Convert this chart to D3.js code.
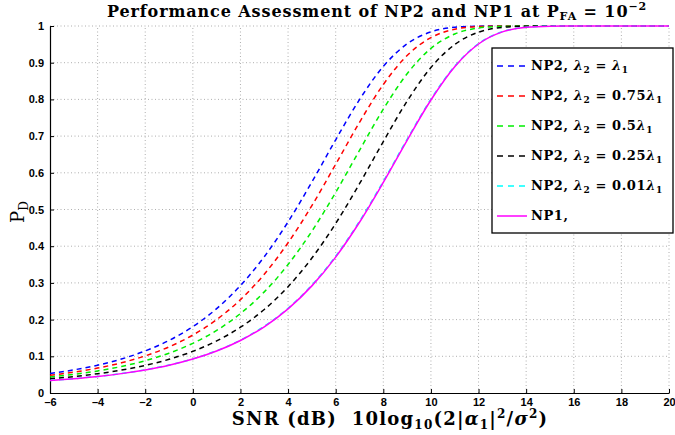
<!DOCTYPE html>
<html>
<head>
<meta charset="utf-8">
<script src="https://cdn.jsdelivr.net/npm/d3@7"></script>
<style>
  body { margin: 0; background: #fff; }
  svg { display: block; }
  .tick text { font-family: "Liberation Sans", Arial, sans-serif; font-weight: bold; font-size: 11px; fill: #000; }
  .grid line { stroke: #9a9a9a; stroke-width: 0.8; stroke-dasharray: 1,2.5; }
  .serif { font-family: "DejaVu Serif", "Liberation Serif", serif; }
</style>
</head>
<body>
<svg id="chart" width="675" height="435"></svg>
<script>
// SNR (dB) sample points
const snrDb = [-6,-5,-4,-3,-2,-1,0,1,2,3,4,5,6,7,8,9,10,11,12,13,14,15,16,17,18,19,20];

// P_D values
const np2Full = [0.0529,0.0630,0.0758,0.0926,0.1146,0.1433,0.1809,0.2299,0.2927,0.3713,0.4663,0.5749,0.6900,0.7995,0.8900,0.9515,0.9841,0.9964,0.9995,1,1,1,1,1,1,1,1];
const np2p75 = [0.0482,0.0568,0.0680,0.0823,0.1011,0.1257,0.1579,0.2000,0.2544,0.3237,0.4093,0.5106,0.6231,0.7375,0.8406,0.9196,0.9684,0.9911,0.9984,0.9998,1,1,1,1,1,1,1];
const np2p5 = [0.0434,0.0508,0.0602,0.0722,0.0880,0.1085,0.1354,0.1706,0.2165,0.2755,0.3501,0.4410,0.5467,0.6611,0.7734,0.8698,0.9390,0.9783,0.9946,0.9992,1,1,1,1,1,1,1];
const np2p25 = [0.0387,0.0448,0.0525,0.0624,0.0752,0.0918,0.1135,0.1419,0.1792,0.2275,0.2898,0.3677,0.4620,0.5702,0.6851,0.7953,0.8867,0.9496,0.9832,0.9962,0.9995,1,1,1,1,1,1];
const np2p01 = [0.0342,0.0391,0.0452,0.0531,0.0632,0.0761,0.0930,0.1151,0.1440,0.1818,0.2310,0.2940,0.3728,0.4680,0.5767,0.6914,0.8007,0.8908,0.9520,0.9843,0.9965,0.9995,1,1,1,1,1];
const np1 = [0.0340,0.0389,0.0450,0.0528,0.0628,0.0756,0.0924,0.1143,0.1430,0.1805,0.2293,0.2919,0.3703,0.4652,0.5738,0.6886,0.7984,0.8891,0.9510,0.9839,0.9964,0.9995,1,1,1,1,1];

const seriesValues = [np2Full, np2p75, np2p5, np2p25, np2p01, np1];
const seriesColors = ["#0000ff", "#ff0000", "#00ee00", "#000000", "#00ffff", "#ff00ff"];
const seriesCoef = ["", "0.75", "0.5", "0.25", "0.01", null];   // null -> NP1

const xTicks = [-6,-4,-2,0,2,4,6,8,10,12,14,16,18,20];
const yTicks = [0,0.1,0.2,0.3,0.4,0.5,0.6,0.7,0.8,0.9,1];

const svg = d3.select("#chart");

const x = d3.scaleLinear().domain([-6, 20]).range([50, 669]);
const y = d3.scaleLinear().domain([0, 1]).range([393, 26]);

// dotted grid
const grid = svg.append("g").attr("class", "grid");
grid.selectAll(".gx").data(xTicks.slice(1)).enter()
  .append("line")
  .attr("x1", d => x(d)).attr("x2", d => x(d))
  .attr("y1", y(0)).attr("y2", y(1));
grid.selectAll(".gy").data(yTicks.slice(1)).enter()
  .append("line")
  .attr("x1", x(-6)).attr("x2", x(20))
  .attr("y1", d => y(d)).attr("y2", d => y(d));

// axes, ticks pointing inward like matlab
svg.append("g")
  .attr("transform", `translate(0,${y(0)})`)
  .call(d3.axisBottom(x).tickValues(xTicks).tickSizeInner(-4).tickSizeOuter(0).tickPadding(5)
    .tickFormat(d => d < 0 ? "\u2013" + (-d) : d))
  .call(g => g.select(".domain").attr("stroke", "#000").attr("stroke-width", 1.2));

svg.append("g")
  .attr("transform", `translate(${x(-6)},0)`)
  .call(d3.axisLeft(y).tickValues(yTicks).tickSizeInner(-4).tickSizeOuter(0).tickPadding(6)
    .tickFormat(d => (d === 0 || d === 1) ? d : d.toFixed(1)))
  .call(g => g.select(".domain").attr("stroke", "#000").attr("stroke-width", 1.2));

// curves
const line = d3.line()
  .x((d, i) => x(snrDb[i]))
  .y(d => y(d))
  .curve(d3.curveMonotoneX);

svg.append("g").selectAll("path")
  .data(seriesValues)
  .enter()
  .append("path")
  .attr("d", line)
  .attr("fill", "none")
  .attr("stroke", (d, i) => seriesColors[i])
  .attr("stroke-width", 1.5)
  .attr("stroke-dasharray", (d, i) => seriesCoef[i] === null ? null : "5,4");

// title
const title = svg.append("text").attr("class", "serif")
  .attr("x", 377).attr("y", 17)
  .attr("text-anchor", "middle")
  .attr("font-size", 16).attr("font-weight", "bold")
  .attr("letter-spacing", 0.9);
title.append("tspan").text("Performance Assessment of NP2 and NP1 at P");
title.append("tspan").attr("font-size", 11).attr("dy", 3).text("FA");
title.append("tspan").attr("dy", -3).text(" = 10");
title.append("tspan").attr("font-size", 11).attr("dy", -7).text("\u22122");

// x label
const xl = svg.append("text").attr("class", "serif")
  .attr("x", 390).attr("y", 425)
  .attr("text-anchor", "middle")
  .attr("font-size", 18).attr("font-weight", "bold")
  .attr("letter-spacing", 1.2);
xl.append("tspan").text("SNR (dB)\u00a0\u00a010log");
xl.append("tspan").attr("font-size", 12).attr("dy", 4).text("10");
xl.append("tspan").attr("dy", -4).text("(2|");
xl.append("tspan").attr("font-style", "italic").text("\u03b1");
xl.append("tspan").attr("font-size", 12).attr("dy", 4).text("1");
xl.append("tspan").attr("dy", -4).text("|");
xl.append("tspan").attr("font-size", 12).attr("dy", -7).text("2");
xl.append("tspan").attr("dy", 7).text("/");
xl.append("tspan").attr("font-style", "italic").text("\u03c3");
xl.append("tspan").attr("font-size", 12).attr("dy", -7).text("2");
xl.append("tspan").attr("dy", 7).text(")");

// y label
const yl = svg.append("text").attr("class", "serif")
  .attr("transform", "translate(24,212) rotate(-90)")
  .attr("text-anchor", "middle")
  .attr("font-size", 18);
yl.append("tspan").text("P");
yl.append("tspan").attr("font-size", 12).attr("dy", 4).text("D");

// legend
const legend = svg.append("g");
legend.append("rect")
  .attr("x", 492).attr("y", 48).attr("width", 181).attr("height", 185)
  .attr("fill", "#fff").attr("stroke", "#000").attr("stroke-width", 1.3);

const items = legend.selectAll(".item")
  .data(seriesColors)
  .enter()
  .append("g")
  .attr("transform", (d, i) => `translate(0,${66 + i * 30})`);

items.append("line")
  .attr("x1", 497).attr("x2", 527)
  .attr("stroke", d => d)
  .attr("stroke-width", 1.5)
  .attr("stroke-dasharray", (d, i) => seriesCoef[i] === null ? null : "6,5");

items.each(function (d, i) {
  const t = d3.select(this).append("text").attr("class", "serif")
    .attr("x", 531).attr("y", 4)
    .attr("font-size", 13).attr("font-weight", "bold")
    .attr("letter-spacing", 0.6);
  const coef = seriesCoef[i];
  if (coef === null) {
    t.append("tspan").text("NP1,");
    return;
  }
  t.append("tspan").text("NP2, ");
  t.append("tspan").attr("font-style", "italic").text("\u03bb");
  t.append("tspan").attr("font-size", 9).attr("dy", 3).text("2");
  t.append("tspan").attr("dy", -3).text(" = " + coef);
  t.append("tspan").attr("font-style", "italic").text("\u03bb");
  t.append("tspan").attr("font-size", 9).attr("dy", 3).text("1");
});
</script>
</body>
</html>
